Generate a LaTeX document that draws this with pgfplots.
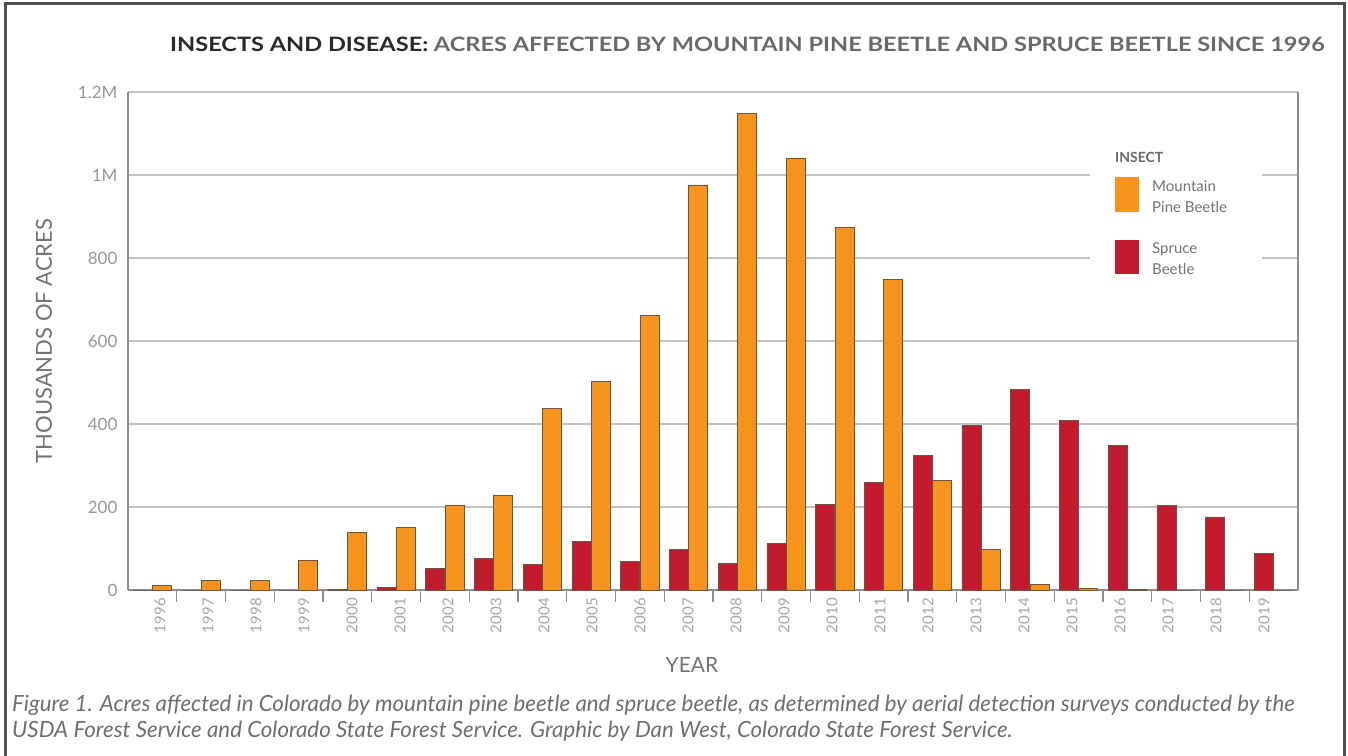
\documentclass[border=0pt]{standalone}
\usepackage{fontspec}
\setmainfont{Lato}
\usepackage{pgfplots}
\pgfplotsset{compat=1.18}
\definecolor{pine}{RGB}{247,148,29}
\definecolor{spruce}{RGB}{193,27,45}
\definecolor{barline}{RGB}{105,85,70}
\definecolor{gridc}{RGB}{195,195,195}
\definecolor{axc}{RGB}{140,140,140}
\definecolor{tickc}{RGB}{150,150,150}
\definecolor{yearc}{RGB}{165,165,165}
\definecolor{framec}{RGB}{80,80,80}
\definecolor{titledark}{RGB}{40,40,40}
\definecolor{titlegray}{RGB}{105,105,105}
\definecolor{labc}{RGB}{115,115,115}
\definecolor{capc}{RGB}{110,110,110}
\begin{document}
\begin{tikzpicture}[x=1pt,y=1pt]
\useasboundingbox (0,0) rectangle (1348,755);
\begin{axis}[
  at={(128pt,165pt)}, anchor=south west,
  width=1170pt, height=498pt, scale only axis,
  xmin=-0.5, xmax=23.5, ymin=0, ymax=1200,
  axis x line*=bottom, axis y line*=box,
  axis line style={-, draw=axc, line width=1.5pt},
  ymajorgrids, grid style={draw=gridc, line width=1.2pt},
  ytick={0,200,400,600,800,1000,1200},
  yticklabels={0,200,400,600,800,1M,1.2M},
  ytick pos=left,
  xtick={0.156,1.141,2.125,3.110,4.095,5.079,6.064,7.049,8.033,9.018,10.002,10.987,11.972,12.956,13.941,14.926,15.910,16.895,17.880,18.864,19.849,20.833,21.818,22.803},
  xticklabels={1996,1997,1998,1999,2000,2001,2002,2003,2004,2005,2006,2007,2008,2009,2010,2011,2012,2013,2014,2015,2016,2017,2018,2019},
  xtick pos=bottom,
  minor xtick={0.5,1.5,2.5,3.5,4.5,5.5,6.5,7.5,8.5,9.5,10.5,11.5,12.5,13.5,14.5,15.5,16.5,17.5,18.5,19.5,20.5,21.5,22.5},
  major tick length=0pt, minor tick length=12pt, tick align=inside,
  minor tick style={draw=axc, line width=1.2pt},
  yticklabel style={font=\fontsize{17}{17}\selectfont, text=tickc, xshift=-7pt},
  xticklabel style={font=\fontsize{15}{15}\selectfont, text=yearc, rotate=90, anchor=east, inner xsep=8pt, inner ysep=0pt},
  ybar, bar width=19pt,
]
\addplot[fill=spruce, draw=barline, line width=0.8pt, bar shift=-9.7pt] coordinates {
(0,0) (1,0) (2,0) (3,0) (4,2) (5,7) (6,51) (7,75) (8,62) (9,118) (10,68) (11,97)
(12,64) (13,112) (14,207) (15,260) (16,325) (17,396) (18,484) (19,408) (20,349) (21,204) (22,176) (23,88)};
\addplot[fill=pine, draw=barline, line width=0.8pt, bar shift=9.7pt] coordinates {
(0,12) (1,22) (2,22) (3,71) (4,139) (5,151) (6,205) (7,227) (8,437) (9,503) (10,661) (11,976)
(12,1149) (13,1041) (14,874) (15,748) (16,263) (17,98) (18,14) (19,4) (20,1) (21,0) (22,0) (23,0)};
\end{axis}
% legend
\fill[white] (1090,465) rectangle (1262,615);
\node[anchor=west, inner sep=0pt, text=titlegray] at (1115,598) {\fontsize{14}{14}\selectfont\textbf{INSECT}};
\fill[pine] (1115,543) rectangle (1139,578);
\fill[spruce] (1115,481) rectangle (1139,515);
\node[anchor=west, inner sep=0pt, align=left, text=labc, font=\fontsize{15}{21}\selectfont] at (1152,558) {Mountain\\Pine Beetle};
\node[anchor=west, inner sep=0pt, align=left, text=labc, font=\fontsize{15}{21}\selectfont] at (1152,496) {Spruce\\Beetle};
% labels
\node[rotate=90, text=labc] at (44,414) {\fontsize{22}{22}\selectfont THOUSANDS OF ACRES};
\node[text=labc] at (692,90) {\fontsize{21}{21}\selectfont YEAR};
% title
\node[anchor=west, inner sep=0pt] at (170,711) {\scalebox{1.19}[1]{\fontsize{19.8}{24}\selectfont\bfseries\color{titledark}INSECTS AND DISEASE: \color{titlegray}ACRES AFFECTED BY MOUNTAIN PINE BEETLE AND SPRUCE BEETLE SINCE 1996}};
% caption
\node[anchor=base west, inner sep=0pt, text=capc] at (12,44) {\fontsize{22.3}{26}\selectfont\itshape Figure 1. Acres affected in Colorado by mountain pine beetle and spruce beetle, as determined by aerial detection surveys conducted by the};
\node[anchor=base west, inner sep=0pt, text=capc] at (12,18) {\fontsize{22.3}{26}\selectfont\itshape USDA Forest Service and Colorado State Forest Service. Graphic by Dan West, Colorado State Forest Service.};
% frame
\draw[framec, line width=3pt] (5,-10) -- (5,751) -- (1344,751) -- (1344,-10);
\end{tikzpicture}
\end{document}
